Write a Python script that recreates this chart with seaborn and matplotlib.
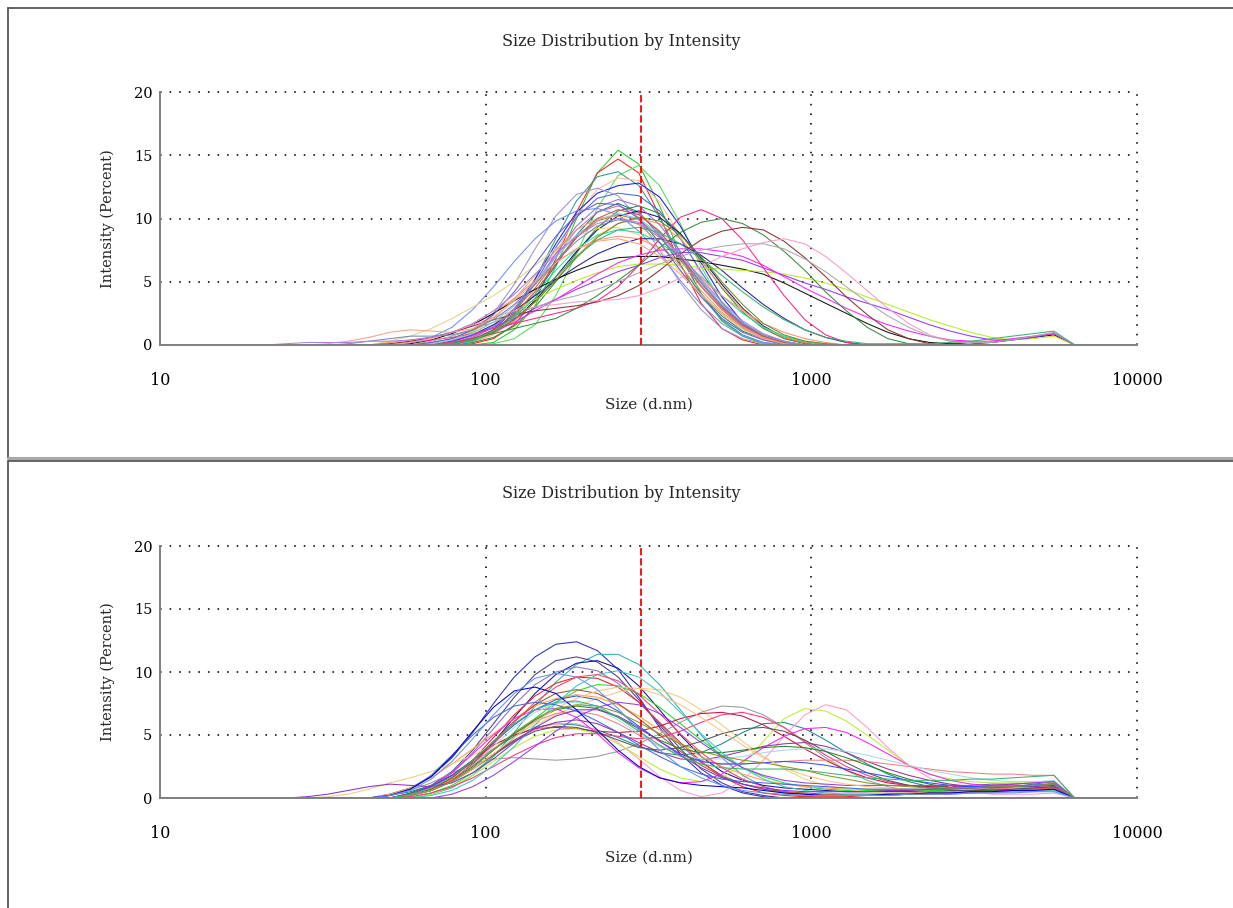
import numpy as np
import pandas as pd
import matplotlib
matplotlib.use("Agg")
import matplotlib.pyplot as plt
import seaborn as sns
from matplotlib.lines import Line2D
from matplotlib.ticker import LogLocator, NullFormatter

# ---------------- text ----------------
TITLE = "Size Distribution by Intensity"
X_LABEL = "Size (d.nm)"
Y_LABEL = "Intensity (Percent)"
X_TICKS = [10, 100, 1000, 10000]
X_TICK_LABELS = ["10", "100", "1000", "10000"]
Y_TICKS = [0, 5, 10, 15, 20]
Y_TICK_LABELS = ["0", "5", "10", "15", "20"]
Y_MINOR_TICKS = [2.5, 7.5, 12.5, 17.5]
REFERENCE_SIZE = 300  # red dashed marker (d.nm)

# ---------------- size classes (d.nm) ----------------
LOW_BINS = [10.10, 11.70, 13.54, 15.69, 18.17, 21.04]
MEASURED_BINS = [24.36, 28.21, 32.67, 37.84, 43.82, 50.75, 58.77, 68.06, 78.82, 91.28,
                 105.7, 122.4, 141.8, 164.2, 190.1, 220.2, 255.0, 295.3, 342.0, 396.1,
                 458.7, 531.2, 615.1, 712.4, 825.0, 955.4, 1106, 1281, 1484, 1718,
                 1990, 2305, 2669, 3091, 3580, 4145, 4801, 5560, 6439]
HIGH_BINS = [7456, 8635, 10000]

# ---------------- top panel runs (intensity %, on MEASURED_BINS) ----------------
TOP_RUNS = [
    [0,0,0,0,0,0,0,0,0,0, 0.2,1.2,3.1,6.2,10.0,13.6,15.4,14.3,11.0,7.2, 4.0,1.9,0.7,0.1],
    [0,0,0,0,0,0,0,0,0,0.1, 0.5,1.6,3.6,6.8,10.5,13.6,14.7,13.6,10.2,6.4, 3.3,1.3,0.4],
    [0,0,0,0,0,0,0,0,0,0, 0.1,0.5,1.6,3.9,7.2,10.8,13.4,14.2,12.6,9.6, 6.2,3.3,1.4,0.4],
    [0,0,0,0,0,0,0,0,0.1,0.3, 1.0,2.6,5.2,8.4,11.4,13.3,13.7,12.6,10.1,7.0, 4.1,2.0,0.8,0.2],
    [0,0,0,0,0,0,0,0,0,0.2, 0.8,2.1,4.4,7.3,10.2,12.3,13.2,13.0,11.3,8.6, 5.6,3.0,1.3,0.4],
    [0,0,0,0,0,0,0,0,0.1,0.4, 1.2,2.8,5.2,8.0,10.5,12.0,12.6,12.8,11.7,9.4, 6.5,3.8,1.8,0.6,0.1],
    [0,0,0,0,0,0,0,0,0,0.3, 1.0,2.5,4.9,7.7,10.1,11.6,12.0,11.8,10.6,8.4, 5.8,3.4,1.6,0.5],
    [0,0,0,0,0,0,0,0,0.3,1.0, 2.5,4.8,7.6,10.2,11.9,12.4,11.8,10.0,7.5,4.9, 2.8,1.3,0.5,0.1],
    [0,0,0,0,0,0,0,0,0.2,0.5, 1.1,2.3,4.0,6.3,8.7,10.5,11.2,10.5,8.7,6.3, 4.0,2.3,1.1,0.5,0.2],
    [0,0,0,0,0,0,0,0.1,0.3,0.7, 1.5,2.9,4.8,7.0,9.1,10.5,11.0,10.4,8.9,6.8, 4.7,2.9,1.5,0.7,0.2],
    [0,0,0,0,0,0,0,0,0,0.2, 0.6,1.5,3.0,5.0,7.3,9.3,10.6,11.0,10.4,8.8, 6.7,4.5,2.6,1.3,0.5,0.1],
    [0,0,0,0,0,0,0.2,0.6,1.4,2.8, 4.6,6.6,8.4,9.8,10.6,10.8,10.3,9.0,7.2,5.1, 3.2,1.7,0.7,0.2],
    [0,0,0,0,0,0,0,0,0.2,0.6, 1.4,2.7,4.5,6.6,8.5,9.8,10.3,9.9,8.6,6.7, 4.6,2.8,1.4,0.6,0.2],
    [0,0,0,0,0,0,0,0,0.1,0.4, 1.0,2.0,3.5,5.4,7.4,9.1,10.2,10.6,10.1,8.8, 6.9,4.8,2.9,1.5,0.6,0.2],
    [0,0,0,0,0,0,0,0,0,0.3, 0.9,1.9,3.4,5.2,7.0,8.6,9.6,10.0,9.6,8.4, 6.6,4.6,2.8,1.4,0.6,0.2],
    [0,0,0,0,0,0.3,0.7,1.3,2.1,3.0, 3.9,5.0,6.3,7.6,8.6,9.2,9.3,8.7,7.5,5.8, 4.0,2.4,1.2,0.5,0.1],
    [0,0,0,0,0,0,0,0,0,0.3, 1.0,2.3,4.0,5.9,7.6,8.7,9.1,8.9,8.1,6.9, 5.4,3.9,2.5,1.4,0.7,0.3,0.1],
    [0,0,0,0,0,0,0,0,0.3,0.8, 1.6,2.7,3.9,5.1,6.2,7.2,7.9,8.4,8.4,8.0, 7.1,5.9,4.5,3.2,2.1,1.2,0.6,0.2],
    [0,0,0,0,0,0.2,0.4,0.6,1.0,1.6, 2.5,3.7,5.1,6.5,7.6,8.3,8.6,8.4,7.7,6.6, 5.3,3.9,2.7,1.7,1.0,0.5,0.2],
    [0,0,0,0,0,0,0.1,0.4,0.9,1.6, 2.5,3.5,4.4,5.2,5.9,6.5,6.9,7.0,7.0,6.8,
     6.6,6.3,6.0,5.6,4.9,4.1,3.3,2.5,1.7,1.0, 0.5,0.2,0.1,0.1,0.2,0.4,0.6,0.8,0],
    [0,0,0,0,0,0,0,0,0.4,1.0, 1.8,2.7,3.6,4.4,5.1,5.7,6.2,6.4,6.4,6.3,
     6.1,6.0,5.9,5.8,5.6,5.3,4.9,4.4,3.8,3.2, 2.6,2.0,1.5,1.0,0.6,0.4,0.5,0.7,0],
    [0,0,0,0,0,0,0,0,0.3,0.8, 1.4,2.1,2.9,3.6,4.4,5.1,5.8,6.3,6.9,7.3,
     7.3,7.0,6.7,6.1,5.5,4.9,4.4,3.8,3.3,2.8, 2.2,1.6,1.1,0.7,0.4,0.4,0.6,0.9,0],
    [0,0,0,0,0,0,0,0,0,0.4, 1.0,1.8,2.7,3.6,4.6,5.6,6.5,7.1,7.5,7.6,
     7.6,7.4,7.0,6.3,5.4,4.5,3.7,2.9,2.2,1.6, 1.1,0.7,0.4,0.3,0.3,0.5,0.7,0.9,0],
    [0,0,0,0,0,0,0.2,0.4,0.6,0.9, 1.3,1.7,2.1,2.5,2.9,3.5,4.6,6.3,8.4,10.1,
     10.7,10.0,8.3,6.1,3.9,2.0,0.8,0.2],
    [0,0,0,0,0,0,0,0,0.2,0.5, 0.9,1.3,1.7,2.1,2.9,3.9,5.1,6.3,7.7,8.9,
     9.7,10.0,9.6,8.7,7.4,5.9,4.2,2.7,1.4,0.5, 0.1],
    [0,0,0,0,0,0.1,0.3,0.6,1.0,1.5, 2.0,2.4,2.7,2.9,3.1,3.4,3.9,4.7,5.9,7.2,
     8.3,9.0,9.3,9.1,8.2,6.9,5.4,3.8,2.4,1.2, 0.5,0.1],
    [0,0,0,0,0,0,0.2,0.5,1.0,1.6, 2.2,2.7,3.0,3.2,3.4,3.5,3.6,3.9,4.5,5.3,
     6.2,7.0,7.6,8.1,8.4,8.0,7.0,5.7,4.3,2.9, 1.7,0.8,0.3,0.1],
    [0,0,0,0,0,0,0,0.3,0.7,1.2, 1.8,2.4,3.0,3.5,3.9,4.4,5.0,5.7,6.4,7.0,
     7.5,7.8,8.0,8.0,7.6,6.8,5.8,4.6,3.4,2.3, 1.4,0.7,0.3,0.2,0.2,0.4,0.7,1.0,0],
    [0,0,0,0,0,0,0,0,0.2,0.6, 1.4,2.8,4.8,7.2,9.4,10.9,11.5,11.0,9.5,7.4, 5.1,3.1,1.6,0.7,0.2],
    [0,0,0,0,0,0,0,0.1,0.4,0.9, 1.8,3.1,4.9,6.9,8.7,9.9,10.4,10.0,8.8,7.0, 5.0,3.2,1.8,0.8,0.3],
    [0,0,0,0,0,0,0,0.2,0.5,1.1, 2.1,3.6,5.5,7.5,9.1,10.0,10.2,9.5,8.1,6.2, 4.3,2.6,1.4,0.6,0.2],
    [0,0,0,0,0,0,0,0,0.2,0.5, 1.2,2.4,4.2,6.4,8.5,10.0,10.7,10.3,9.0,7.0, 4.9,3.0,1.6,0.7,0.2],
    [0,0,0,0,0,0,0,0.2,0.5,1.2, 2.4,4.2,6.4,8.6,10.3,11.2,11.1,10.0,8.1,5.9, 3.8,2.1,1.0,0.4,0.1],
    [0,0,0,0,0,0,0,0,0.1,0.4, 1.0,2.0,3.4,5.1,6.9,8.5,9.6,10.1,9.8,8.7, 7.0,5.0,3.2,1.7,0.8,0.3,0.1],
    [0,0,0.1,0.3,0.6,1.0,1.2,1.1,1.0,1.3, 2.2,3.5,5.0,6.5,7.6,8.2,8.4,8.0,7.0,5.6, 4.0,2.5,1.3,0.5,0.1],
    [0,0,0,0.1,0.3,0.5,0.7,0.7,0.8,1.2, 2.0,3.2,4.8,6.6,8.2,9.4,9.9,9.6,8.5,6.8, 4.9,3.1,1.7,0.8,0.3],
    [0.1,0.2,0.2,0.2,0.3,0.3,0.4,0.6,1.0,1.7, 2.7,4.0,5.6,7.2,8.6,9.6,10.0,9.7,8.7,7.1, 5.2,3.4,1.9,0.9,0.3],
    [0,0,0,0,0,0,0,0,0.1,0.4, 1.1,2.2,3.7,5.4,7.0,8.3,9.1,9.3,8.9,8.0,
     6.8,5.5,4.2,3.0,2.0,1.2,0.6,0.3,0.1,0.1, 0.1,0.1,0.2,0.3,0.5,0.7,0.9,1.1,0],
]
TOP_COLORS = [
    "#22cc22", "#ff2020", "#55e055", "#2a9d9d", "#ffb890", "#1a1aff", "#4466ee",
    "#a090d0", "#108080", "#cc66cc", "#2d8f2d", "#7090f0", "#c07848", "#101080",
    "#ff9955", "#e8d088", "#20e0a0", "#202090", "#ff9070", "#111111", "#b0f020",
    "#9933ff", "#ff22ff", "#ff2288", "#3a8a3a", "#8b3030", "#ff99c8", "#aaaaaa",
    "#9370db", "#80c8f0", "#d8a868", "#d05050", "#6a5acd", "#6b8e23", "#ffa080",
    "#7788aa", "#b080e0", "#3cb371",
]

# ---------------- bottom panel runs ----------------
BOTTOM_RUNS = [
    [0,0,0,0,0,0.3,0.8,1.7,3.2,5.2, 7.5,9.6,11.2,12.2,12.4,11.7,10.2,8.0,5.6,3.5, 2.0,1.0,0.4,0.1],
    [0,0,0,0,0,0,0,0.3,0.8,1.8, 3.3,5.2,7.3,9.2,10.6,11.4,11.4,10.6,9.0,7.0, 5.0,3.2,1.8,0.9,0.4,0.1],
    [0,0,0,0,0,0,0.4,1.0,2.1,3.8, 5.9,8.0,9.8,10.9,11.2,10.8,9.6,7.8,5.8,3.9, 2.3,1.2,0.5,0.2],
    [0,0,0,0,0,0,0.2,0.6,1.4,2.7, 4.4,6.4,8.3,9.8,10.7,10.9,10.3,8.9,7.0,5.0,
     3.3,2.1,1.4,1.0,0.8,0.7,0.6,0.5,0.5,0.5, 0.5,0.5,0.6,0.6,0.7,0.7,0.8,0.9,0],
    [0,0,0,0,0,0,0.3,0.9,2.0,3.6, 5.5,7.4,9.0,10.0,10.4,10.1,9.1,7.6,5.9,4.2,
     2.8,1.8,1.1,0.7,0.4,0.3,0.2,0.2,0.2,0.2, 0.3,0.3,0.3,0.4,0.4,0.5,0.5,0.6,0],
    [0,0,0,0,0,0,0.2,0.7,1.6,3.0, 4.8,6.6,8.1,9.1,9.6,9.5,8.8,7.6,6.0,4.4,
     2.9,1.7,0.9,0.4,0.2,0.1,0.1,0.1,0.2,0.3, 0.4,0.5,0.6,0.7,0.8,0.9,1.0,1.1,0],
    [0,0,0,0,0,0.2,0.5,1.0,1.8,2.8, 3.9,4.9,5.6,5.9,5.8,5.4,4.8,4.1,3.6,3.4,
     3.6,4.3,5.2,5.9,6.0,5.5,4.6,3.6,2.7,1.9, 1.3,0.9,0.7,0.7,0.8,0.9,1.1,1.3,0],
    [0,0,0,0,0,0,0,0.4,1.0,2.0, 3.3,4.8,6.3,7.6,8.5,9.0,8.9,8.3,7.2,5.9,
     4.6,3.4,2.4,1.7,1.2,0.9,0.7,0.6,0.6,0.6, 0.6,0.6,0.6,0.7,0.8,0.9,1.0,1.2,0],
    [0,0,0,0,0,0.3,0.8,1.6,2.7,3.9, 5.1,6.3,7.3,7.9,8.2,8.0,7.4,6.5,5.4,4.3,
     3.3,2.5,1.9,1.4,1.1,0.9,0.8,0.7,0.7,0.7, 0.7,0.7,0.7,0.7,0.8,0.8,0.8,0.9,0],
    [0,0,0.1,0.3,0.7,1.2,1.6,2.1,2.7,3.4, 4.2,5.0,5.8,6.6,7.3,7.9,8.4,8.7,8.6,8.0,
     7.0,5.8,4.5,3.3,2.3,1.5,1.0,0.7,0.5,0.4, 0.4,0.4,0.4,0.5,0.5,0.6,0.6,0.7,0],
    [0,0,0,0,0,0.2,0.6,1.2,2.0,2.7, 3.1,3.2,3.1,3.0,3.1,3.3,3.7,4.3,5.1,6.0,
     6.8,7.3,7.2,6.6,5.6,4.4,3.2,2.2,1.4,0.9, 0.6,0.5,0.5,0.6,0.7,0.8,0.9,1.0,0],
    [0,0,0,0,0,0,0.3,0.9,1.8,3.0, 4.2,5.0,5.5,5.6,5.5,5.3,5.2,5.3,5.7,6.3,
     6.7,6.8,6.5,5.8,4.9,3.9,3.0,2.2,1.6,1.2, 1.0,0.9,0.9,0.9,1.0,1.1,1.2,1.3,0],
    [0,0,0,0,0,0,0.2,0.6,1.3,2.3, 3.4,4.5,5.4,5.9,5.9,5.4,4.4,3.1,1.7,0.6,
     0.1,0.4,1.4,3.0,4.9,6.6,7.4,7.0,5.6,4.0, 2.6,1.6,0.9,0.5,0.3,0.3,0.3,0.4,0],
    [0,0,0,0,0,0,0,0.3,0.9,1.8, 2.9,4.0,4.9,5.4,5.5,5.1,4.3,3.3,2.3,1.6,
     1.3,1.6,2.7,4.5,6.3,7.1,6.9,6.1,5.0,3.8, 2.6,1.9,1.5,1.3,1.2,1.2,1.2,1.3,0],
    [0,0,0,0,0,0,0.3,0.9,2.0,3.5, 5.0,6.3,7.0,7.1,6.4,5.1,3.6,2.4,1.6,1.2,
     1.3,1.9,2.9,4.0,4.9,5.5,5.6,5.2,4.4,3.5, 2.6,1.9,1.4,1.1,1.0,1.0,1.0,1.1,0],
    [0,0,0,0,0,0,0.2,0.6,1.3,2.3, 3.5,4.6,5.5,6.0,6.2,5.9,5.2,4.4,3.6,3.1,
     3.0,3.3,3.7,4.1,4.3,4.4,4.1,3.6,2.9,2.3, 1.8,1.4,1.1,0.9,0.8,0.8,0.8,0.9,0],
    [0,0,0,0,0,0,0.1,0.4,0.9,1.6, 2.5,3.4,4.2,4.8,5.1,5.1,4.9,4.7,4.8,5.3,
     6.0,6.6,6.8,6.4,5.6,4.5,3.4,2.5,1.8,1.3, 1.0,0.8,0.7,0.7,0.7,0.8,0.9,1.0,0],
    [0,0,0,0,0,0,0.2,0.6,1.3,2.3, 3.4,4.5,5.3,5.7,5.6,5.2,4.6,4.0,3.8,4.0,
     4.5,5.1,5.5,5.6,5.3,4.6,3.7,2.8,2.0,1.4, 1.0,0.8,0.6,0.6,0.6,0.7,0.8,0.9,0],
    [0,0,0,0,0,0,0.2,0.7,1.5,2.6, 3.9,5.1,6.1,6.7,6.9,6.6,5.9,5.0,4.1,3.4,
     2.9,2.7,2.7,2.8,2.9,3.0,3.0,3.0,2.9,2.7, 2.5,2.3,2.1,2.0,1.9,1.9,1.8,1.8,0],
    [0,0,0,0,0,0,0.2,0.6,1.4,2.6, 4.1,5.6,6.8,7.5,7.6,7.1,6.2,5.1,4.1,3.4,
     3.1,3.1,3.3,3.6,3.8,3.9,3.9,3.7,3.4,3.0, 2.6,2.2,1.9,1.6,1.4,1.3,1.3,1.4,0],
    [0,0,0,0,0,0,0.3,0.9,1.8,3.0, 4.4,5.8,7.0,7.8,8.1,7.8,6.9,5.7,4.5,3.5,
     2.9,2.7,2.7,2.8,2.9,2.8,2.6,2.3,2.0,1.7, 1.4,1.2,1.0,0.9,0.9,0.9,1.0,1.1,0],
    [0,0,0,0,0,0,0.2,0.6,1.4,2.5, 3.8,5.1,6.2,7.0,7.3,7.1,6.4,5.5,4.6,3.9,
     3.6,3.6,3.8,4.0,4.1,4.0,3.7,3.2,2.6,2.0, 1.5,1.1,0.8,0.7,0.6,0.6,0.7,0.8,0],
    [0,0,0,0,0,0,0.2,0.7,1.6,2.9, 4.5,6.1,7.4,8.3,8.6,8.3,7.5,6.3,5.0,3.7,
     2.6,1.7,1.1,0.7,0.5,0.4,0.3,0.3,0.3,0.3, 0.3,0.4,0.4,0.5,0.5,0.6,0.6,0.7,0],
    [0,0,0,0,0,0,0,0.2,0.6,1.4, 2.6,4.1,5.8,7.5,8.9,9.8,10.1,9.6,8.4,6.8,
     5.1,3.6,2.4,1.5,0.9,0.6,0.4,0.3,0.3,0.3, 0.3,0.3,0.4,0.4,0.5,0.5,0.6,0.6,0],
    [0,0,0,0,0,0,0.2,0.6,1.4,2.7, 4.3,6.0,7.6,8.8,9.6,9.8,9.3,8.2,6.7,5.1,
     3.6,2.4,1.5,0.9,0.5,0.3,0.2,0.2,0.2,0.2, 0.3,0.3,0.4,0.4,0.5,0.6,0.7,0.8,0],
    [0,0,0,0,0,0,0,0,0.3,0.9, 1.8,2.9,4.1,5.3,6.4,7.2,7.6,7.4,6.7,5.6,
     4.4,3.3,2.4,1.8,1.4,1.2,1.1,1.0,1.0,1.0, 1.0,1.0,1.0,1.0,1.1,1.1,1.2,1.3,0],
    [0,0,0,0,0,0,0.2,0.6,1.3,2.3, 3.5,4.8,6.0,7.1,7.9,8.5,8.8,8.7,8.2,7.4,
     6.4,5.3,4.2,3.2,2.4,1.8,1.4,1.1,0.9,0.8, 0.7,0.7,0.7,0.7,0.8,0.8,0.9,1.0,0],
    [0,0.1,0.3,0.6,0.9,1.1,1.0,0.9,1.2,2.0, 3.1,4.4,5.6,6.5,7.0,7.0,6.5,5.6,4.5,3.4,
     2.4,1.6,1.1,0.8,0.6,0.5,0.5,0.5,0.5,0.6, 0.6,0.7,0.7,0.8,0.8,0.9,0.9,1.0,0],
    [0,0,0,0,0,0.2,0.7,1.8,3.4,5.0, 6.4,7.3,7.6,7.4,6.9,6.1,5.2,4.2,3.3,2.5,
     1.9,1.5,1.3,1.2,1.1,1.0,0.9,0.8,0.7,0.7, 0.7,0.7,0.8,0.8,0.9,0.9,1.0,1.1,0],
    [0,0,0,0,0,0.2,0.7,1.7,3.3,5.3, 7.2,8.5,8.8,8.3,7.0,5.4,3.8,2.5,1.6,1.2,
     1.0,0.9,0.8,0.6,0.4,0.3,0.2,0.2,0.2,0.3, 0.3,0.4,0.4,0.5,0.5,0.6,0.6,0.7,0],
    [0,0,0,0,0,0,0.2,0.6,1.3,2.4, 3.8,5.2,6.3,7.1,7.4,7.3,6.8,6.0,5.1,4.3,
     3.7,3.3,3.0,2.8,2.5,2.2,1.8,1.5,1.2,1.0, 0.9,0.8,0.8,0.8,0.9,0.9,1.0,1.1,0],
    [0,0,0,0,0,0.2,0.6,1.5,2.9,4.7, 6.6,8.3,9.5,9.9,9.6,8.6,7.1,5.4,3.8,2.5,
     1.6,1.0,0.6,0.4,0.3,0.2,0.2,0.2,0.2,0.2, 0.3,0.3,0.3,0.4,0.4,0.4,0.5,0.5,0],
    [0,0,0,0,0,0,0.3,0.8,1.7,3.0, 4.5,5.9,7.0,7.6,7.7,7.3,6.4,5.3,4.2,3.3,
     2.7,2.4,2.3,2.3,2.3,2.2,2.0,1.8,1.6,1.5, 1.4,1.4,1.4,1.5,1.5,1.6,1.7,1.8,0],
]
BOTTOM_COLORS = [
    "#2a2acc", "#30b0b0", "#483d8b", "#1010a0", "#8070d0", "#ee2020", "#178a8a",
    "#22dd22", "#ffa040", "#f0cc80", "#999999", "#cc1040", "#ff99cc", "#b8f030",
    "#ff20ff", "#993399", "#ff3388", "#555555", "#f08080", "#a8d8e8", "#3050ff",
    "#228822", "#a0522d", "#40c8c0", "#ff4060", "#9040f0", "#ffc080", "#8833cc",
    "#4169e1", "#0000cd", "#7a9a30", "#6495ed", "#3cb371",
]


def build_frame(runs):
    n = len(MEASURED_BINS)
    sizes = LOW_BINS + MEASURED_BINS + HIGH_BINS
    rows = []
    for i, vals in enumerate(runs):
        vals = list(vals) + [0] * (n - len(vals))
        full = [0] * len(LOW_BINS) + vals + [0] * len(HIGH_BINS)
        for s, v in zip(sizes, full):
            rows.append((i, s, v))
    return pd.DataFrame(rows, columns=["run", "size", "intensity"])


sns.set_style("white")
plt.rcParams["font.family"] = ["DejaVu Serif"]

W, H = 1233, 908
fig = plt.figure(figsize=(W / 100, H / 100), dpi=100)
fig.patch.set_facecolor("white")


def fx(x):
    return x / W


def fy(y):
    return 1 - y / H


# panel frames
frame_kw = dict(transform=fig.transFigure, color="#4a4a4a", lw=1.2)
fig.add_artist(Line2D([fx(8), fx(8)], [fy(8), fy(458)], **frame_kw))
fig.add_artist(Line2D([fx(8), 1], [fy(8), fy(8)], **frame_kw))
fig.add_artist(Line2D([fx(8), 1], [fy(458), fy(458)],
                      transform=fig.transFigure, color="#a8a8a8", lw=2.2))
fig.add_artist(Line2D([fx(8), 1], [fy(461), fy(461)], **frame_kw))
fig.add_artist(Line2D([fx(8), fx(8)], [fy(461), 0], **frame_kw))

panels = [
    (TOP_RUNS, TOP_COLORS, 92, 345, 41),
    (BOTTOM_RUNS, BOTTOM_COLORS, 546, 798, 494),
]
left_px, right_px = 160, 1137

for runs, colors, top_px, bot_px, title_px in panels:
    ax = fig.add_axes([fx(left_px), fy(bot_px), (right_px - left_px) / W, (bot_px - top_px) / H])
    df = build_frame(runs)
    sns.lineplot(data=df, x="size", y="intensity", hue="run",
                 hue_order=list(range(len(runs))), palette=colors,
                 estimator=None, legend=False, linewidth=0.75, ax=ax)
    ax.set_xscale("log")
    ax.set_xlim(10, 10000)
    ax.set_ylim(0, 20)
    # dotted grid
    for yv in Y_TICKS[1:]:
        ax.axhline(yv, color="black", lw=1.15, ls=(0, (1, 5)), clip_on=False, zorder=0)
    for xv in X_TICKS[1:]:
        ax.axvline(xv, color="black", lw=1.15, ls=(0, (1, 5)), clip_on=False, zorder=0)
    ax.axvline(REFERENCE_SIZE, color="red", lw=1.3, ls=(0, (4, 1.6)), zorder=5)

    ax.set_xticks(X_TICKS, X_TICK_LABELS)
    ax.xaxis.set_minor_locator(LogLocator(base=10, subs=range(2, 10)))
    ax.xaxis.set_minor_formatter(NullFormatter())
    ax.set_yticks(Y_TICKS, Y_TICK_LABELS)
    ax.set_yticks(Y_MINOR_TICKS, minor=True)
    ax.tick_params(axis="x", which="both", direction="inout", length=4.5, width=0.9,
                   color="#707070", pad=17, labelsize=11.5, labelcolor="black")
    ax.tick_params(axis="y", which="major", direction="out", length=3, width=0.9,
                   color="#707070", pad=2.5, labelsize=10.5, labelcolor="black")
    ax.tick_params(axis="y", which="minor", direction="inout", length=7, width=0.9,
                   color="#707070")
    for side in ("top", "right"):
        ax.spines[side].set_visible(False)
    for side in ("left", "bottom"):
        ax.spines[side].set_color("#808080")
        ax.spines[side].set_linewidth(1.4)
    ax.set_xlabel(X_LABEL, fontsize=11)
    ax.set_ylabel(Y_LABEL, fontsize=10.5)
    ax.xaxis.set_label_coords(0.5, -(398 - 345) / (345 - 92))
    ax.yaxis.set_label_coords(-(160 - 115) / (right_px - left_px), 0.5)
    ax.set_facecolor("white")
    fig.text(fx(621), fy(title_px), TITLE, ha="center", va="center", fontsize=11.5)

fig.savefig("out.png", dpi=100, facecolor="white")
